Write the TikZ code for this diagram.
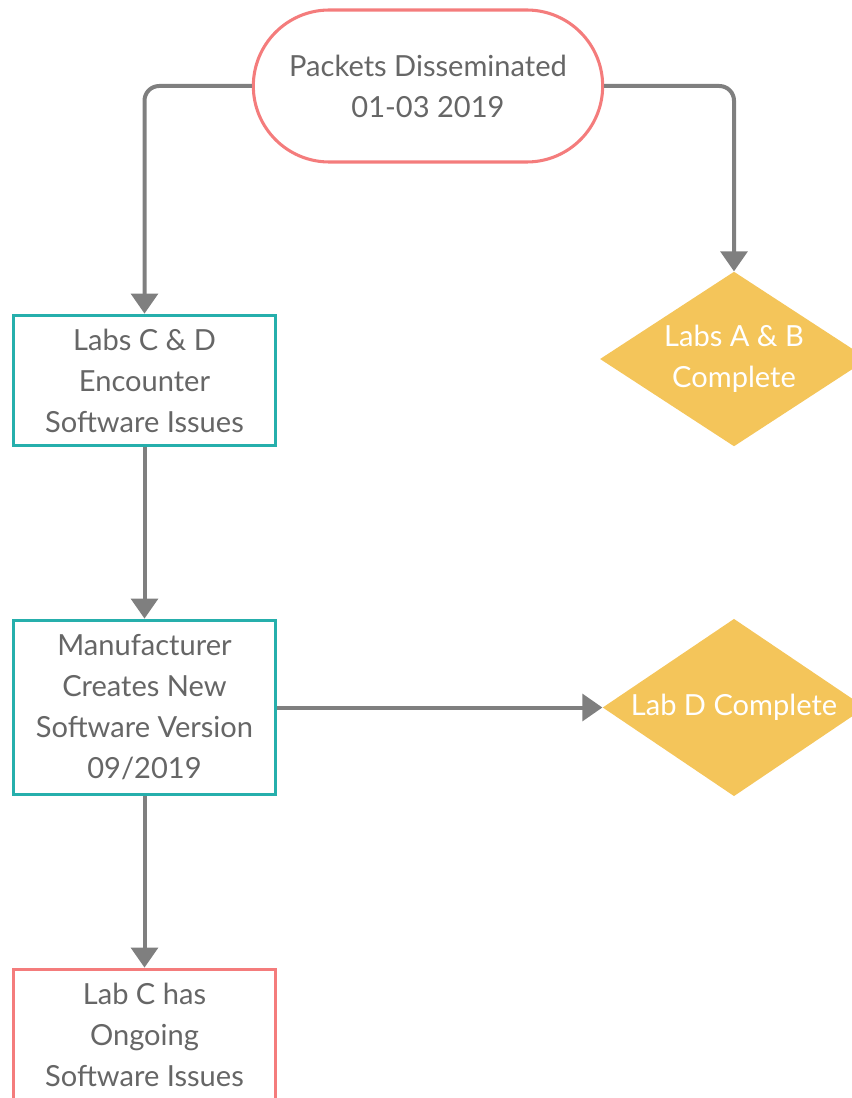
\documentclass[tikz,border=0pt]{standalone}
\usepackage{fontspec}
\setmainfont{Lato}
\usetikzlibrary{shapes.geometric,arrows.meta}
\definecolor{flowred}{HTML}{F47C7C}
\definecolor{flowteal}{HTML}{26AFAC}
\definecolor{flowyellow}{HTML}{F4C55A}
\definecolor{flowgray}{HTML}{7F7F7F}
\definecolor{flowtext}{HTML}{666666}
\tikzset{
  terminal/.style={draw=flowred,line width=2.3pt,rounded corners=57pt,text=flowtext,
    minimum width=262pt,minimum height=114pt,inner sep=0pt},
  process/.style={draw=flowteal,line width=2.3pt,text=flowtext,
    minimum width=197pt,minimum height=98pt,inner sep=0pt},
  issue/.style={process,draw=flowred},
  decision/.style={diamond,fill=flowyellow,inner sep=0pt},
  flowline/.style={draw=flowgray,line width=3pt,rounded corners=11pt,
    -{Triangle[width=20pt,length=15pt]}}
}
\begin{document}
\begin{tikzpicture}[x=0.75pt,y=-0.75pt,
  every node/.style={font=\fontsize{21.8}{30.75}\selectfont,align=center}]
  \clip (0,0) rectangle (852,1098);
  % start
  \node[terminal] (packets) at (428,86) {Packets Disseminated\\01-03 2019};
  % left column
  \node[process] (issues) at (144.5,380.5) {Labs C \& D\\Encounter\\Software Issues};
  \node[process,minimum height=131pt] (newver) at (144.5,707.5)
    {Manufacturer\\Creates New\\Software Version\\09/2019};
  \node[issue] (labc) at (144.5,1034.5) {Lab C has\\Ongoing\\Software Issues};
  % right column
  \node[decision,minimum width=201pt,minimum height=131pt,
    label={[text=white]center:{Labs A \& B\\Complete}}] (labsab) at (734,359) {};
  \node[decision,minimum width=197pt,minimum height=133pt,
    label={[text=white]center:{Lab D Complete}}] (labd) at (734,707.5) {};
  % connectors
  \draw[flowline] (packets.west) -| (issues.north);
  \draw[flowline] (packets.east) -| (labsab.north);
  \draw[flowline] (issues.south) -- (newver.north);
  \draw[flowline] (newver.south) -- (labc.north);
  \draw[flowline] (newver.east) -- (labd.west);
\end{tikzpicture}
\end{document}
